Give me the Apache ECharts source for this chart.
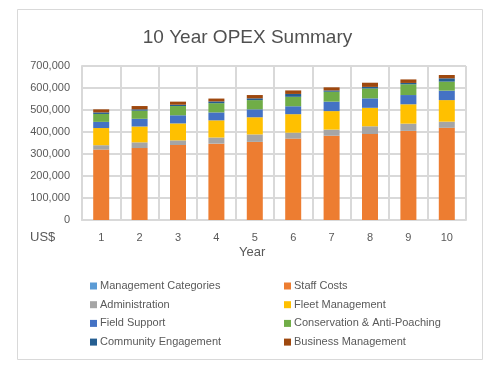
<!DOCTYPE html>
<html>
<head>
<meta charset="utf-8">
<script src="https://cdn.jsdelivr.net/npm/echarts@6/dist/echarts.min.js"></script>
<style>
html,body{margin:0;padding:0;background:#fff;}
#chart{width:495px;height:379px;}
</style>
</head>
<body>
<div id="chart"></div>
<script>
const years = ['1','2','3','4','5','6','7','8','9','10'];
const managementCategories = [0,0,0,0,0,0,0,0,0,0];
const staffCosts = [320000,327000,341000,347000,355000,370000,383000,391000,405000,419000];
const administration = [20000,26000,21000,28000,34000,27000,28000,35000,33000,28000];
const fleetManagement = [78000,72000,77000,78000,78000,84000,84000,84000,88000,98000];
const fieldSupport = [28000,35000,37000,36000,36000,36000,43000,43000,42000,43000];
const conservation = [36000,37000,42000,42000,42000,43000,45000,45000,49000,41000];
const community = [7000,6000,6000,8000,8000,13000,6000,7000,6000,15000];
const business = [14000,15000,14000,13000,15000,16000,14000,19000,16000,15000];

const font = "'Liberation Sans', Arial, sans-serif";
const txt = '#595959';

const seriesDefs = [
  ['Management Categories', managementCategories, '#5B9BD5'],
  ['Staff Costs', staffCosts, '#ED7D31'],
  ['Administration', administration, '#A5A5A5'],
  ['Fleet Management', fleetManagement, '#FFC000'],
  ['Field Support', fieldSupport, '#4472C4'],
  ['Conservation & Anti-Poaching', conservation, '#70AD47'],
  ['Community Engagement', community, '#255E91'],
  ['Business Management', business, '#9E480E']
];

const chart = echarts.init(document.getElementById('chart'));
const legendCommon = {
  orient: 'vertical', itemWidth: 7, itemHeight: 7, itemGap: 6.7,
  icon: 'rect', selectedMode: false,
  textStyle: {color: txt, fontSize: 11, fontFamily: font, lineHeight: 12, padding: [0,0,0,-2]},
  padding: 0
};
chart.setOption({
  animation: false,
  backgroundColor: '#fff',
  textStyle: {fontFamily: font},
  title: {
    text: '10 Year OPEX Summary', left: 'center', top: 23,
    textStyle: {color: '#505050', fontSize: 19, fontWeight: 'normal', fontFamily: font}
  },
  graphic: [
    {type: 'rect', shape: {x: 17.5, y: 9.5, width: 465, height: 350}, style: {fill: 'none', stroke: '#D9D9D9', lineWidth: 1}, z: -1},
    {type: 'text', left: 30, top: 231, style: {text: 'US$', fill: txt, fontSize: 13, fontFamily: font}},
    {type: 'text', left: 239, top: 246, style: {text: 'Year', fill: txt, fontSize: 13, fontFamily: font}}
  ],
  legend: [
    Object.assign({left: 90, top: 280, data: ['Management Categories','Administration','Field Support','Community Engagement']}, legendCommon),
    Object.assign({left: 284, top: 280, data: ['Staff Costs','Fleet Management','Conservation & Anti-Poaching','Business Management']}, legendCommon)
  ],
  grid: {left: 82, right: 29, top: 66, bottom: 159, containLabel: false},
  xAxis: {
    type: 'category', data: years,
    axisLine: {show: true, lineStyle: {color: '#D9D9D9', width: 2}},
    axisTick: {show: false},
    splitLine: {show: true, lineStyle: {color: '#D9D9D9', width: 2}},
    axisLabel: {color: txt, fontSize: 11, fontFamily: font, margin: 12}
  },
  yAxis: {
    type: 'value', min: 0, max: 700000, interval: 100000,
    axisLine: {show: true, lineStyle: {color: '#D9D9D9', width: 2}},
    axisTick: {show: false},
    splitLine: {show: true, lineStyle: {color: '#D9D9D9', width: 2}},
    axisLabel: {color: txt, fontSize: 11, fontFamily: font, margin: 12,
      formatter: v => v.toLocaleString('en-US')}
  },
  series: seriesDefs.map(([name, data, color]) => ({
    name, type: 'bar', stack: 'total', data, barWidth: 16,
    itemStyle: {color}
  }))
});
</script>
</body>
</html>
